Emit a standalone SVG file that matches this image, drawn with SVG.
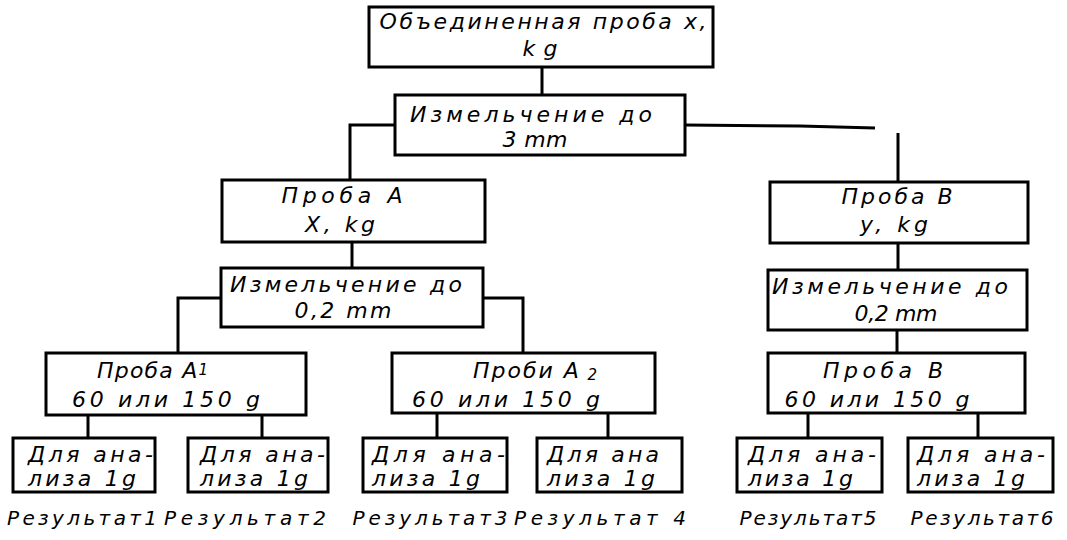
<svg xmlns="http://www.w3.org/2000/svg" width="1067" height="540" viewBox="0 0 1067 540">
<style>
.box{fill:#fff;stroke:#000;stroke-width:3}
.ln{fill:none;stroke:#000;stroke-width:3}
text{font-family:"DejaVu Sans","Liberation Sans",sans-serif;font-style:oblique;font-size:22px;fill:#000}
.c{text-anchor:middle}
.s{text-anchor:start}
.r{font-size:20px}
</style>
<rect width="1067" height="540" fill="#fff"/>
<g id="connectors">
<path class="ln" d="M542,67V95"/>
<path class="ln" d="M395,125H350V180"/>
<path class="ln" d="M685,125L800,126L875,128" stroke-width="2.5"/>
<path class="ln" d="M898,133V182"/>
<path class="ln" d="M352,242V268"/>
<path class="ln" d="M221,298H178V353"/>
<path class="ln" d="M483,298H523V353"/>
<path class="ln" d="M898,243V270"/>
<path class="ln" d="M897,330V353"/>
<path class="ln" d="M88,415V438M262,415V438"/>
<path class="ln" d="M437,413V438M608,413V438"/>
<path class="ln" d="M808,413V438M978,413V438"/>
</g>
<g id="n-top">
<rect class="box" x="369" y="7" width="344" height="60"/>
<text class="c" x="543" y="29" textLength="327" lengthAdjust="spacing">Объединенная  проба  х,</text>
<text class="c" x="540" y="56" textLength="35" lengthAdjust="spacing">kg</text>
</g>
<g id="n-grind3">
<rect class="box" x="395" y="95" width="290" height="60"/>
<text class="c" x="531" y="122" textLength="242" lengthAdjust="spacing">Измельчение  до</text>
<text class="c" x="535" y="147" textLength="65" lengthAdjust="spacing">3 mm</text>
</g>
<g id="n-probaA">
<rect class="box" x="222" y="180" width="263" height="62"/>
<text class="c" x="342" y="203" textLength="121" lengthAdjust="spacing">Проба  А</text>
<text class="c" x="340" y="232" textLength="70" lengthAdjust="spacing">X, kg</text>
</g>
<g id="n-grindA">
<rect class="box" x="221" y="268" width="262" height="59"/>
<text class="c" x="346" y="292" textLength="232" lengthAdjust="spacing">Измельчение  до</text>
<text class="c" x="343" y="318" textLength="97" lengthAdjust="spacing">0,2 mm</text>
</g>
<g id="n-probaB">
<rect class="box" x="770" y="182" width="258" height="61"/>
<text class="c" x="897" y="204" textLength="111" lengthAdjust="spacing">Проба В</text>
<text class="c" x="894" y="232" textLength="68" lengthAdjust="spacing">y, kg</text>
</g>
<g id="n-grindB">
<rect class="box" x="768" y="270" width="259" height="60"/>
<text class="c" x="890" y="294" textLength="236" lengthAdjust="spacing">Измельчение до</text>
<text class="c" x="896" y="321" textLength="83" lengthAdjust="spacing">0,2 mm</text>
</g>
<g id="n-A1">
<rect class="box" x="46" y="353" width="260" height="62"/>
<text class="s" x="97" y="378" textLength="111" lengthAdjust="spacing">Проба  А<tspan font-size="15" dy="-3">1</tspan></text>
<text class="c" x="166" y="407" textLength="188" lengthAdjust="spacing">60  или  150 g</text>
</g>
<g id="n-A2">
<rect class="box" x="392" y="353" width="263" height="60"/>
<text class="s" x="473" y="378" textLength="124" lengthAdjust="spacing">Проби  А<tspan font-size="15" dy="2"> 2</tspan></text>
<text class="c" x="506" y="407" textLength="188" lengthAdjust="spacing">60   или  150 g</text>
</g>
<g id="n-B">
<rect class="box" x="768" y="353" width="257" height="60"/>
<text class="c" x="883" y="378" textLength="120" lengthAdjust="spacing">Проба  В</text>
<text class="c" x="877" y="407" textLength="185" lengthAdjust="spacing">60 или 150 g</text>
</g>
<g id="n-r1">
<rect class="box" x="13" y="438" width="142" height="54"/>
<text class="s" x="28" y="462" textLength="125" lengthAdjust="spacing">Для ана-</text>
<text class="s" x="28" y="486" textLength="108" lengthAdjust="spacing">лиза 1g</text>
<text class="c r" x="82" y="525" textLength="150" lengthAdjust="spacing">Результат1</text>
</g>
<g id="n-r2">
<rect class="box" x="188" y="438" width="140" height="54"/>
<text class="s" x="200" y="462" textLength="125" lengthAdjust="spacing">Для ана-</text>
<text class="s" x="200" y="486" textLength="108" lengthAdjust="spacing">лиза 1g</text>
<text class="c r" x="245" y="525" textLength="162" lengthAdjust="spacing">Результат2</text>
</g>
<g id="n-r3">
<rect class="box" x="363" y="438" width="144" height="54"/>
<text class="s" x="372" y="462" textLength="133" lengthAdjust="spacing">Для ана-</text>
<text class="s" x="372" y="486" textLength="108" lengthAdjust="spacing">лиза 1g</text>
<text class="c r" x="430" y="525" textLength="155" lengthAdjust="spacing">Результат3</text>
</g>
<g id="n-r4">
<rect class="box" x="537" y="438" width="145" height="54"/>
<text class="s" x="547" y="462" textLength="112" lengthAdjust="spacing">Для ана</text>
<text class="s" x="547" y="486" textLength="108" lengthAdjust="spacing">лиза 1g</text>
<text class="c r" x="600" y="525" textLength="172" lengthAdjust="spacing">Результат 4</text>
</g>
<g id="n-r5">
<rect class="box" x="737" y="438" width="145" height="54"/>
<text class="s" x="748" y="462" textLength="128" lengthAdjust="spacing">Для ана-</text>
<text class="s" x="748" y="486" textLength="105" lengthAdjust="spacing">лиза 1g</text>
<text class="c r" x="808" y="525" textLength="137" lengthAdjust="spacing">Результат5</text>
</g>
<g id="n-r6">
<rect class="box" x="908" y="438" width="145" height="54"/>
<text class="s" x="917" y="462" textLength="128" lengthAdjust="spacing">Для ана-</text>
<text class="s" x="917" y="486" textLength="108" lengthAdjust="spacing">лиза 1g</text>
<text class="c r" x="982" y="525" textLength="143" lengthAdjust="spacing">Результат6</text>
</g>
</svg>
